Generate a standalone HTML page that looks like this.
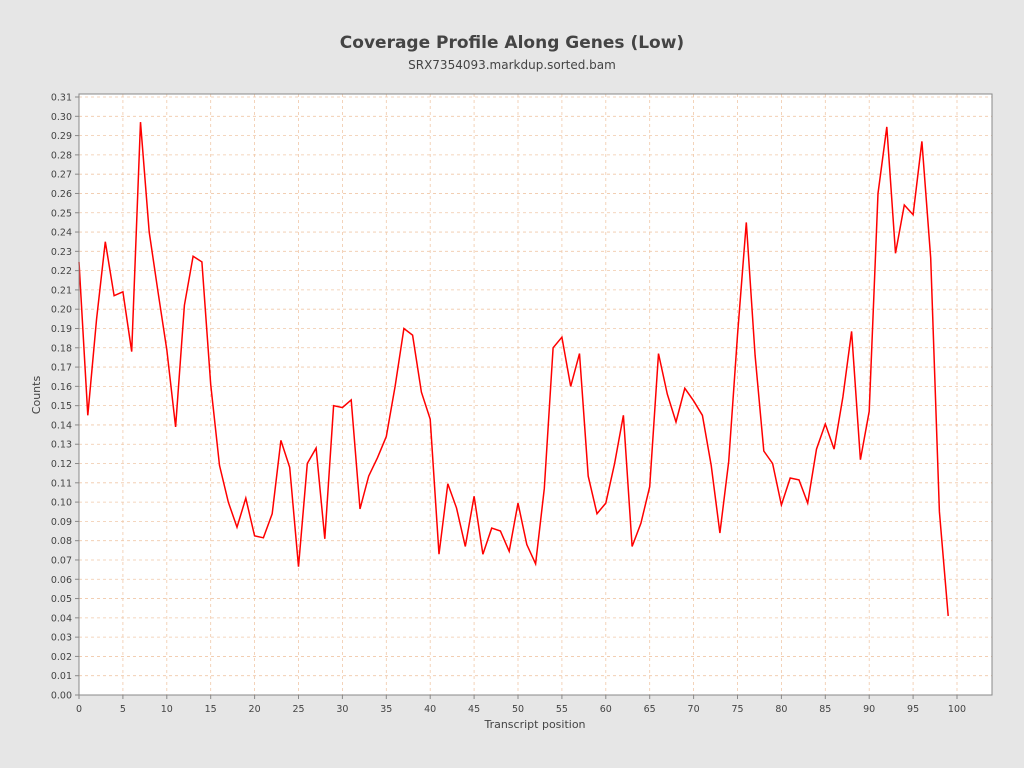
<!DOCTYPE html>
<html><head><meta charset="utf-8"><style>
body{margin:0;background:#e6e6e6;}
svg{display:block;font-family:"DejaVu Sans","Liberation Sans",sans-serif;}
</style></head><body>
<svg id="chart" width="1024" height="768">
<rect width="1024" height="768" fill="#e6e6e6"/>
<text x="512" y="48" text-anchor="middle" font-size="17" font-weight="bold" fill="#444">Coverage Profile Along Genes (Low)</text>
<text x="512" y="69" text-anchor="middle" font-size="12" fill="#444">SRX7354093.markdup.sorted.bam</text>
<rect x="79" y="94" width="913" height="601" fill="#fff"/>
<g id="grid"></g>
<g id="axes"></g>
<path id="line" fill="none" stroke="#ff0000" stroke-width="1.5"/>
<rect x="79" y="94" width="913" height="601" fill="none" stroke="#888"/>
<text x="40" y="395" transform="rotate(-90 40 395)" text-anchor="middle" font-size="11" fill="#444">Counts</text>
<text x="535" y="728" text-anchor="middle" font-size="11" fill="#444">Transcript position</text>
</svg>
<script>
const values=[0.2245,0.145,0.195,0.235,0.207,0.209,0.178,0.297,0.24,0.209,0.179,0.139,0.202,0.2275,0.2245,0.161,0.119,0.100,0.087,0.102,0.0825,0.0815,0.094,0.132,0.118,0.0665,0.120,0.128,0.081,0.150,0.149,0.153,0.0965,0.1135,0.123,0.134,0.16,0.19,0.1865,0.157,0.143,0.073,0.1095,0.097,0.077,0.103,0.073,0.0865,0.085,0.0745,0.0995,0.078,0.068,0.107,0.18,0.1855,0.16,0.177,0.1135,0.094,0.0995,0.12,0.145,0.077,0.089,0.108,0.177,0.156,0.1415,0.159,0.1525,0.145,0.119,0.084,0.121,0.1865,0.245,0.176,0.1265,0.12,0.0985,0.1125,0.1115,0.0995,0.1275,0.1405,0.1275,0.1545,0.1885,0.122,0.147,0.26,0.2945,0.229,0.254,0.249,0.287,0.2265,0.095,0.041];
const xTicks=[0,5,10,15,20,25,30,35,40,45,50,55,60,65,70,75,80,85,90,95,100];
const yTickCount=32;
const NS="http://www.w3.org/2000/svg";
const X=v=>79+v*8.78, Y=v=>695-v*1929;
const grid=document.getElementById('grid'), axes=document.getElementById('axes');
function mk(tag,attrs,parent){const e=document.createElementNS(NS,tag);for(const k in attrs)e.setAttribute(k,attrs[k]);parent.appendChild(e);return e;}
for(let i=0;i<yTickCount;i++){const v=i/100,y=Y(v);
 const g=mk('line',{x1:79,x2:992,y1:y,y2:y,stroke:'#f0c8a8','stroke-dasharray':'3,3','stroke-width':0.8},grid);
 
 
 const t=mk('line',{x1:75,x2:79,y1:y,y2:y,stroke:'#888'},axes);
 
 
 const l=mk('text',{x:72,y:y+3.5,'text-anchor':'end','font-size':9.5,fill:'#444'},axes);l.textContent=v.toFixed(2);
 
 }
xTicks.forEach(v=>{const x=X(v);
 const g=mk('line',{x1:x,x2:x,y1:94,y2:695,stroke:'#f0c8a8','stroke-dasharray':'3,3','stroke-width':0.8},grid);
 
 
 const t=mk('line',{x1:x,x2:x,y1:695,y2:699,stroke:'#888'},axes);
 
 
 const l=mk('text',{x:x,y:712,'text-anchor':'middle','font-size':9.5,fill:'#444'},axes);l.textContent=v;
 
 });
document.getElementById('line').setAttribute('d',values.map((v,i)=>(i?'L':'M')+X(i).toFixed(1)+','+Y(v).toFixed(1)).join(''));
</script>
</body></html>
